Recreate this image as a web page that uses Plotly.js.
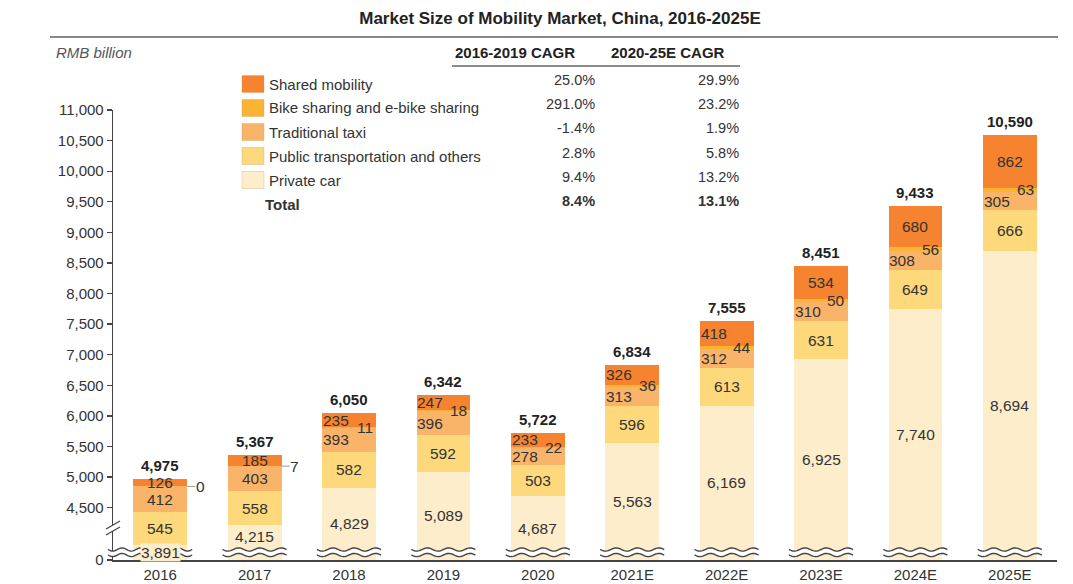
<!DOCTYPE html>
<html><head><meta charset="utf-8">
<script src="https://cdn.plot.ly/plotly-3.0.1.min.js"></script>
<style>html,body{margin:0;padding:0;background:#fff}</style>
</head><body><div id="chart" style="width:1073px;height:584px"></div>
<script>
// ---------- data ----------
const years = ['2016','2017','2018','2019','2020','2021E','2022E','2023E','2024E','2025E'];
const privateCar      = [3891,4215,4829,5089,4687,5563,6169,6925,7740,8694];
const publicTransport = [545,558,582,592,503,596,613,631,649,666];
const traditionalTaxi = [412,403,393,396,278,313,312,310,308,305];
const bikeSharing     = [0,7,11,18,22,36,44,50,56,63];
const sharedMobility  = [126,185,235,247,233,326,418,534,680,862];
const totals          = [4975,5367,6050,6342,5722,6834,7555,8451,9433,10590];

const legendNames = ['Shared mobility','Bike sharing and e-bike sharing','Traditional taxi','Public transportation and others','Private car'];
const cagr1619 = ['25.0%','291.0%','-1.4%','2.8%','9.4%'];
const cagr2025 = ['29.9%','23.2%','1.9%','5.8%','13.2%'];
const totalCagr1619 = '8.4%';
const totalCagr2025 = '13.1%';
const yTickVals = [4500,5000,5500,6000,6500,7000,7500,8000,8500,9000,9500,10000,10500,11000];
const yBreakBottom = 3645;   // value shown at the "0" of the broken axis
const yTop = 11000;

// ---------- style ----------
const C = {shared:'#F5832F', bike:'#FBB334', taxi:'#F9B46A', pub:'#FDD97C', priv:'#FEEDCB'};
const legendColors = [C.shared, C.bike, C.taxi, C.pub, C.priv];
const FONT = 'Liberation Sans, Arial, sans-serif';
const TXT = '#333';
const LBL = 15.5;   // in-bar label size
const L = 113, T = 110, W = 944, H = 450;  // plot area in px
const px2x = px => (px - L) / W;
const py2y = py => (T + H - py) / H;
const py2val = py => yBreakBottom + py2y(py) * (yTop - yBreakBottom);
const fmt = n => n.toLocaleString('en-US');
const WAVE_TOP = 547;   // px, upper edge of the break marks

// ---------- traces ----------
const mk = (name, y, color) => ({
  type:'bar', name, x: years, y, marker:{color, line:{width:0}},
  hoverinfo:'x+y+name', showlegend:false
});
const data = [
  mk('Private car', privateCar, C.priv),
  mk('Public transportation and others', publicTransport, C.pub),
  mk('Traditional taxi', traditionalTaxi, C.taxi),
  mk('Bike sharing and e-bike sharing', bikeSharing, C.bike),
  mk('Shared mobility', sharedMobility, C.shared)
];

// ---------- annotations ----------
const ann = [];
const lab = (x, y, text, align, xshift, extra) => Object.assign({
  x, y, xref:'x', yref:'y', text, showarrow:false,
  xanchor: align, yanchor:'middle', xshift: xshift || 0, borderpad:0,
  font:{family:FONT, size:LBL, color:TXT}
}, extra || {});
const HALF = 27;
const waveTopVal = py2val(WAVE_TOP);
const pxPerVal = H / (yTop - yBreakBottom);
years.forEach((yr, i) => {
  const p1 = privateCar[i];
  const p2 = p1 + publicTransport[i];
  const p3 = p2 + traditionalTaxi[i];
  const p4 = p3 + bikeSharing[i];
  const p5 = p4 + sharedMobility[i];
  const bikeOutside = bikeSharing[i] < 10;
  // private-car label: centre of the visible part, lifted above the break if it would sit on it
  let privY = (Math.max(yBreakBottom, 0) + p1) / 2;
  const roomAbove = (p1 - waveTopVal) * pxPerVal;
  if ((privY - waveTopVal) * pxPerVal < 9 && roomAbove >= 18) privY = (waveTopVal + p1) / 2;
  ann.push(lab(i, privY, fmt(privateCar[i]), 'center', 0, {bgcolor:C.priv}));
  ann.push(lab(i, (p1 + p2) / 2, fmt(publicTransport[i]), 'center', 0));
  ann.push(lab(i, (p2 + p3) / 2, fmt(traditionalTaxi[i]), bikeOutside ? 'center' : 'left', bikeOutside ? 0 : -HALF));
  if (bikeOutside) {
    ann.push({x:i, y:(p3 + p4) / 2, xref:'x', yref:'y', text:fmt(bikeSharing[i]),
      showarrow:true, arrowhead:0, arrowwidth:1, arrowcolor:'#999', ax:13, ay:0, xshift:HALF,
      standoff:0, borderpad:0, font:{family:FONT, size:LBL, color:TXT}});
  } else {
    ann.push(lab(i, (p3 + p4) / 2, fmt(bikeSharing[i]), 'right', HALF - 2));
  }
  const sharedCentered = bikeOutside || sharedMobility[i] >= 500;
  ann.push(lab(i, (p4 + p5) / 2, fmt(sharedMobility[i]), sharedCentered ? 'center' : 'left', sharedCentered ? 0 : -HALF));
  ann.push({x:i, y:totals[i], xref:'x', yref:'y', text:'<b>' + fmt(totals[i]) + '</b>',
    showarrow:false, xanchor:'center', yanchor:'bottom', yshift:4, borderpad:0,
    font:{family:FONT, size:15, color:'#222'}});
});

// paper-positioned texts
const ptxt = (px, py, text, anchor, font) => ({
  x: px2x(px), y: py2y(py), xref:'paper', yref:'paper', text, showarrow:false,
  xanchor: anchor, yanchor:'middle', font: Object.assign({family:FONT, size:15, color:TXT}, font || {})
});
ann.push(ptxt(54, 52, '<i>RMB billion</i>', 'left', {size:15, color:'#555'}));
ann.push(ptxt(515, 52, '<b>2016-2019 CAGR</b>', 'center', {size:15, color:'#222'}));
ann.push(ptxt(668, 52, '<b>2020-25E CAGR</b>', 'center', {size:15, color:'#222'}));
const tableRows = [80, 104, 128, 153, 177];
const legendRows = [84, 108, 132, 156, 180];
const shapes = [];
legendNames.forEach((n, k) => {
  ann.push(ptxt(267, legendRows[k], n, 'left'));
  ann.push(ptxt(597, tableRows[k], cagr1619[k], 'right', {size:14.5}));
  ann.push(ptxt(741, tableRows[k], cagr2025[k], 'right', {size:14.5}));
  shapes.push({type:'rect', xref:'paper', yref:'paper',
    x0:px2x(242), x1:px2x(264), y0:py2y(legendRows[k] + 8.5), y1:py2y(legendRows[k] - 8.5),
    fillcolor:legendColors[k], line:{color:'rgba(200,160,110,0.35)', width:1}});
});
ann.push(ptxt(263, 204, '<b>Total</b>', 'left'));
ann.push(ptxt(597, 201, '<b>' + totalCagr1619 + '</b>', 'right', {size:14.5}));
ann.push(ptxt(741, 201, '<b>' + totalCagr2025 + '</b>', 'right', {size:14.5}));

// ---------- decorative shapes ----------
shapes.push({type:'line', xref:'paper', yref:'paper', x0:px2x(50), x1:px2x(1058), y0:py2y(37), y1:py2y(37),
  line:{color:'#888', width:2}});
shapes.push({type:'line', xref:'paper', yref:'paper', x0:px2x(452), x1:px2x(740), y0:py2y(66), y1:py2y(66),
  line:{color:'#666', width:1.5}});

const toPath = pts => 'M ' + pts.map(p => px2x(p[0]).toFixed(5) + ',' + py2y(p[1]).toFixed(5)).join(' L ');
function wave(x0, x1, cy, amp, periods, n) {
  const pts = [];
  for (let k = 0; k <= n; k++) {
    const t = k / n;
    pts.push([x0 + (x1 - x0) * t, cy + amp * Math.sin(t * periods * 2 * Math.PI)]);
  }
  return pts;
}
years.forEach((yr, i) => {
  const cx = L + (i + 0.5) * W / years.length;
  const x0 = i === 0 ? L - 5 : cx - 32;   // first break runs into the axis
  const per = i === 0 ? 4.5 : 3;
  const up = wave(x0, cx + 32, 549.5, 1.6, per, 64);
  const lo = wave(x0, cx + 32, 555, 1.6, per, 64);
  shapes.push({type:'path', xref:'paper', yref:'paper', layer:'above',
    path: toPath(up.concat(lo.slice().reverse())) + ' Z', fillcolor:'#fff', line:{width:0}});
  shapes.push({type:'path', xref:'paper', yref:'paper', layer:'above',
    path: toPath(up), line:{color:'#444', width:1.4}});
  shapes.push({type:'path', xref:'paper', yref:'paper', layer:'above',
    path: toPath(lo), line:{color:'#444', width:1.4}});
});
shapes.push({type:'path', xref:'paper', yref:'paper', layer:'above',
  path: toPath([[106,529],[120,521],[120,527],[106,535]]) + ' Z', fillcolor:'#fff', line:{width:0}});
shapes.push({type:'line', xref:'paper', yref:'paper', layer:'above',
  x0:px2x(106), y0:py2y(529), x1:px2x(120), y1:py2y(521), line:{color:'#444', width:1.3}});
shapes.push({type:'line', xref:'paper', yref:'paper', layer:'above',
  x0:px2x(106), y0:py2y(535), x1:px2x(120), y1:py2y(527), line:{color:'#444', width:1.3}});

// ---------- layout ----------
const layout = {
  width:1073, height:584,
  margin:{l:L, r:1073 - L - W, t:T, b:584 - T - H, pad:0},
  paper_bgcolor:'#fff', plot_bgcolor:'#fff',
  barmode:'stack', bargap:0.43,
  font:{family:FONT, size:12, color:TXT},
  title:{text:'<b>Market Size of Mobility Market, China, 2016-2025E</b>',
    font:{family:FONT, size:17, color:'#222'},
    x:560/1073, xref:'container', xanchor:'center', y:1 - 18/584, yref:'container', yanchor:'middle'},
  xaxis:{type:'category', range:[-0.5, years.length - 0.5], showline:true, linecolor:'#444', linewidth:2,
    ticks:'', showgrid:false, zeroline:false, tickfont:{family:FONT, size:15, color:TXT}},
  yaxis:{range:[yBreakBottom, yTop], showline:true, linecolor:'#444', linewidth:1.3,
    tickvals:[yBreakBottom].concat(yTickVals), ticktext:['0'].concat(yTickVals.map(fmt)),
    ticks:'outside', ticklen:5, tickcolor:'#444', tickwidth:1.3, showgrid:false, zeroline:false,
    tickfont:{family:FONT, size:15, color:TXT}},
  annotations: ann,
  shapes: shapes,
  showlegend:false
};
Plotly.newPlot('chart', data, layout, {displayModeBar:false, staticPlot:true});
</script>
</body></html>
